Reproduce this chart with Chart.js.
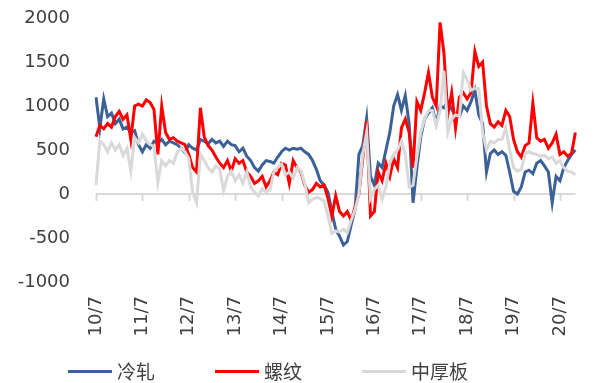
<!DOCTYPE html>
<html lang="zh-CN">
<head>
<meta charset="UTF-8">
<title>冷轧 螺纹 中厚板</title>
<script src="https://cdn.jsdelivr.net/npm/chart.js"></script>
<style>
  body { margin: 0; background: #fff; }
  #caixa { position: relative; width: 611px; height: 383px; }
  #legenda { position: absolute; left: 68px; top: 359px; display: flex; gap: 60px;
             font-family: "Noto Sans CJK SC", sans-serif; font-size: 19px; color: #404040; line-height: 24px; }
  #legenda div { display: flex; align-items: center; }
  #legenda i { display: inline-block; width: 44px; height: 3px; margin-right: 5px; }
</style>
</head>
<body>
<div id="caixa">
  <canvas id="grafico" width="611" height="383"></canvas>
  <div id="legenda"></div>
</div>
<script>
// 月度数据, 2010/7 - 2020/11
var inicioAno = 2010, inicioMes = 7, totalMeses = 125
var rotulosX = ['10/7', '11/7', '12/7', '13/7', '14/7', '15/7', '16/7', '17/7', '18/7', '19/7', '20/7']
var nomes = ['冷轧', '螺纹', '中厚板']
var cores = ['#3b6196', '#ff0000', '#d9d9d9']

var lengzha = [
  1100, 750, 1080, 880, 920, 800, 850, 740, 760, 700,
  720, 560, 480, 560, 520, 600, 580, 620, 560, 600,
  580, 560, 520, 470, 560, 520, 500, 620, 600, 570,
  620, 580, 600, 540, 600, 560, 550, 480, 520, 430,
  380, 300, 260, 330, 380, 370, 350, 420, 480, 520,
  500, 520, 510, 520, 480, 450, 380, 280, 150, 100,
  20, -200, -400, -480, -580, -540, -350, -180, 450, 550,
  860, 200, 100, 350, 300, 500, 700, 1000, 1130, 950,
  1120, 800, -100, 300, 650, 850, 920, 980, 800, 1000,
  980, 1050, 960, 900, 880, 1000, 950, 1050, 1180, 900,
  800, 250, 460, 500, 450, 480, 440, 250, 30, 0,
  80, 250, 270, 230, 350, 380, 320, 250, -100, 200,
  150, 300, 380, 450, 500
]
var luowen = [
  650, 780, 740, 800, 760, 880, 940, 850, 900, 620,
  1000, 1020, 1000, 1070, 1040, 960, 450, 1000, 700, 620,
  640, 600, 580, 560, 450, 300, 250, 980, 650, 550,
  500, 420, 350, 300, 380, 260, 400, 350, 380, 250,
  200, 120, 150, 200, 80, 150, 250, 220, 350, 330,
  120, 380, 300, 250, 100, 20, 50, 120, 80, 100,
  -50, -250, -20, -200, -250, -200, -300, -150, 0, 400,
  830, -250, -200, 250, 150, 350, 200, 400, 300, 750,
  850, 700, 300, 1050, 950, 1150, 1380, 1100, 1000, 1950,
  1600, 900, 1150, 750, 1100, 1150, 1080, 1150, 1620, 1450,
  1500, 1000, 800, 760, 820, 780, 950, 880, 620, 480,
  420, 550, 580, 1030, 640, 600, 620, 520, 580, 680,
  450, 480, 430, 460, 700
]
var zhonghouban = [
  100, 600, 560, 480, 580, 500, 560, 440, 520, 260,
  640, 580, 680, 600, 560, 540, 130, 380, 320, 380,
  350, 470, 520, 480, 400, 20, -100, 450, 380, 300,
  250, 320, 280, 40, 200, 260, 150, 220, 120, 250,
  80, 20, -20, 60, 20, 50, 250, 300, 340, 220,
  250, 180, 300, 260, 120, -100, -60, -40, -50, -80,
  -250, -450, -420, -430, -400, -440, -300, -180, 0, 450,
  700, -50, 50, 100, -60, 80, 350, 450, 500, 600,
  450, 80, 100, 420, 700, 850, 950, 950, 780, 950,
  1400, 700, 850, 900, 880, 1380, 1300, 1180, 1200, 1200,
  700, 500, 600, 580, 620, 620, 750, 500, 300, 260,
  280, 460, 480, 460, 450, 430, 440, 400, 420, 350,
  380, 300, 260, 250, 220
]

var meses = []
var a = inicioAno, m = inicioMes
while (meses.length < totalMeses) {
  meses.push(String(a).slice(2) + '/' + m)
  m++
  if (m > 12) { m = 1; a++ }
}

// eixo em zero com as marcas de julho
var eixoZero = {
  id: 'eixoZero',
  beforeDatasetsDraw: function (chart) {
    var ctx = chart.ctx, sx = chart.scales.x, y0 = chart.scales.y.getPixelForValue(0)
    ctx.save()
    ctx.strokeStyle = '#d9d9d9'
    ctx.lineWidth = 2
    ctx.beginPath()
    ctx.moveTo(chart.chartArea.left, y0)
    ctx.lineTo(chart.chartArea.right, y0)
    meses.forEach(function (r, i) {
      if (rotulosX.indexOf(r) >= 0) {
        var px = Math.round(sx.getPixelForValue(i)) + 0.5
        ctx.moveTo(px, y0)
        ctx.lineTo(px, y0 + 7)
      }
    })
    ctx.stroke()
    ctx.restore()
  }
}

var series = [lengzha, luowen, zhonghouban]
var datasets = series.map(function (s, i) {
  return {
    label: nomes[i],
    data: s,
    borderColor: cores[i],
    backgroundColor: cores[i],
    borderWidth: 3,
    pointRadius: 0,
    tension: 0,
    order: 3 - i
  }
})

new Chart(document.getElementById('grafico'), {
  type: 'line',
  data: { labels: meses, datasets: datasets },
  options: {
    responsive: false,
    animation: false,
    layout: { padding: { top: 18, right: 2, left: 0, bottom: 0 } },
    plugins: { legend: { display: false }, tooltip: { enabled: false } },
    scales: {
      x: {
        grid: { display: false, drawTicks: false },
        border: { display: false },
        afterFit: function (s) { s.height = 101 },
        ticks: {
          autoSkip: false, minRotation: 90, maxRotation: 90, padding: 14,
          color: '#404040', font: { family: 'DejaVu Sans', size: 18 },
          callback: function (v, i) { return rotulosX.indexOf(meses[i]) >= 0 ? meses[i] : '' }
        }
      },
      y: {
        min: -1000, max: 2000,
        grid: { display: false, drawTicks: false },
        border: { display: false },
        afterFit: function (s) { s.width = 96; s.paddingTop = 0; s.paddingBottom = 0 },
        ticks: {
          stepSize: 500, padding: 26, color: '#404040', font: { family: 'DejaVu Sans', size: 18 },
          callback: function (v) { return String(v) }
        }
      }
    }
  },
  plugins: [eixoZero]
})

var leg = document.getElementById('legenda')
nomes.forEach(function (n, i) {
  leg.innerHTML += '<div><i style="background:' + cores[i] + '"></i>' + n + '</div>'
})
</script>
</body>
</html>
